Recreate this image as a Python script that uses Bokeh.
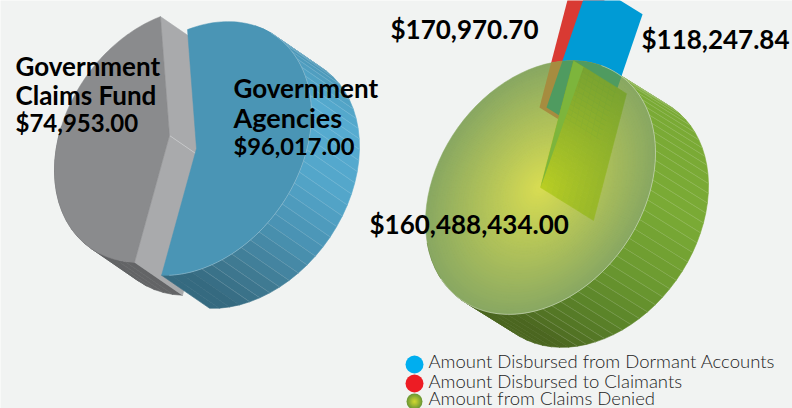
import math
import numpy as np
from bokeh.plotting import figure
from bokeh.models import Range1d
from bokeh.core.properties import value
from bokeh.embed import file_html
from bokeh.resources import INLINE

# ---- data ----
left_names = ["Government Claims Fund", "Government Agencies"]
left_values = [74953.00, 96017.00]
left_labels = [["Government", "Claims Fund", "$74,953.00"],
               ["Government", "Agencies", "$96,017.00"]]
right_names = ["Amount Disbursed from Dormant Accounts",
               "Amount Disbursed to Claimants",
               "Amount from Claims Denied"]
right_values = [118247.84, 170970.70, 160488434.00]
right_labels = ["$118,247.84", "$170,970.70", "$160,488,434.00"]

# ---- projection of the tilted pies (screen pixels, y down) ----
U = np.array([115.0, -34.8])
V = np.array([0.0, 122.0])
BG = "#f1f3f2"


def pt(center, deg, r=1.0):
    t = math.radians(deg)
    return np.array(center) + r * (U * math.cos(t) + V * math.sin(t))


def arc(center, a, b, r=1.0, n=120):
    return [pt(center, a + (b - a) * i / n, r) for i in range(n + 1)]


def hex2rgb(h):
    return np.array([int(h[i:i + 2], 16) for i in (1, 3, 5)], float)


def mix(a, b, t):
    c = hex2rgb(a) * (1 - t) + hex2rgb(b) * t
    return "#%02x%02x%02x" % tuple(int(round(v)) for v in c)


def shade(stops, deg):
    for (a, ca), (b, cb) in zip(stops, stops[1:]):
        if a <= deg <= b:
            return mix(ca, cb, (deg - a) / (b - a))
    return stops[0][1] if deg < stops[0][0] else stops[-1][1]


def clip_convex(poly, hull):
    # Sutherland-Hodgman; hull is ordered clockwise on screen (theta increasing)
    out = [np.array(q) for q in poly]
    for i in range(len(hull)):
        a, b = hull[i], hull[(i + 1) % len(hull)]
        inp, out = out, []
        side = lambda q: (b[0] - a[0]) * (q[1] - a[1]) - (b[1] - a[1]) * (q[0] - a[0])
        for j in range(len(inp)):
            s, e = inp[j], inp[(j + 1) % len(inp)]
            ss, se = side(s), side(e)
            if ss >= 0:
                out.append(s)
            if (ss >= 0) != (se >= 0):
                out.append(s + (e - s) * ss / (ss - se))
        if not out:
            return []
    return out


p = figure(width=792, height=408, x_range=Range1d(0, 792), y_range=Range1d(408, 0),
           toolbar_location=None, output_backend="svg", min_border=0)
p.axis.visible = False
p.grid.visible = False
p.outline_line_color = None
p.background_fill_color = BG
p.border_fill_color = BG


def poly(points, color, alpha=1.0, line=True):
    xs = [float(q[0]) for q in points]
    ys = [float(q[1]) for q in points]
    p.patch(xs, ys, fill_color=color, fill_alpha=alpha,
            line_color=color if line else None, line_alpha=alpha, line_width=0.5)


def side_wall(center, depth, a, b, stops, step=5.0, rule_until=95):
    n = int((b - a) / step)
    xs, ys, cols, lx, ly = [], [], [], [], []
    for i in range(n):
        t0, t1 = a + (b - a) * i / n, a + (b - a) * (i + 1) / n
        quad = [pt(center, t0), pt(center, t1), pt(center, t1) + depth, pt(center, t0) + depth]
        xs.append([float(q[0]) for q in quad])
        ys.append([float(q[1]) for q in quad])
        cols.append(shade(stops, (t0 + t1) / 2))
        if i and t0 < rule_until:
            lx.append([float(quad[0][0]), float(quad[3][0])])
            ly.append([float(quad[0][1]), float(quad[3][1])])
    p.patches(xs, ys, fill_color=cols, line_color=cols, line_width=0.6)
    p.multi_line(lx, ly, line_color="white", line_alpha=0.22, line_width=0.6)


def wedge(center, a, b, color):
    poly([np.array(center)] + arc(center, a, b), color)


# ---- left pie: slice sizes follow the values ----
L_GRAY = np.array([169.0, 135.0])
L_BLUE = np.array([196.0, 148.0])
L_DEPTH = np.array([48.0, 33.0])
split = -94.5
blue_span = 360.0 * left_values[1] / sum(left_values)
b_end = split + blue_span

# gray slice
side_wall(L_GRAY, L_DEPTH, b_end, 200, [(0, "#636466"), (200, "#636466")], rule_until=-999)
g_top, g_bot = pt(L_GRAY, split), pt(L_GRAY, b_end)
poly([L_GRAY, g_bot, g_bot + L_DEPTH, L_GRAY + L_DEPTH], "#a9aaac")
poly([g_top, L_GRAY, L_GRAY + L_DEPTH, g_top + L_DEPTH], "#a9aaac")
p.line([float(L_GRAY[0]), float(L_GRAY[0] + L_DEPTH[0])],
       [float(L_GRAY[1]), float(L_GRAY[1] + L_DEPTH[1])], line_color="white", line_alpha=0.6, line_width=0.5)
wedge(L_GRAY, b_end, split + 360, "#8a8b8d")

# blue slice
blue_stops = [(-90, "#4a8fae"), (-40, "#4c96b6"), (-5, "#56acd1"), (25, "#53a6ca"),
              (50, "#4a93b3"), (75, "#3f7a92"), (95, "#356a80"), (110, "#356a80")]
side_wall(L_BLUE, L_DEPTH, split + 35, b_end, blue_stops, rule_until=92)
wedge(L_BLUE, split, b_end, "#4a95b5")
a_edge = arc(L_BLUE, split + 45, b_end - 4)
p.line([float(q[0]) for q in a_edge], [float(q[1]) for q in a_edge],
       line_color="white", line_alpha=0.45, line_width=0.6)

# ---- right pie ----
R_C = np.array([540.0, 187.0])
R_D = np.array([53.0, 33.0])
green_stops = [(-70, "#8da95f"), (-40, "#7aaa35"), (20, "#7aaa35"), (50, "#6c9a30"),
               (75, "#5a8229"), (105, "#4b6620"), (200, "#4b6620")]
side_wall(R_C, R_D, -64, 170, green_stops, step=4.5, rule_until=102)

# exploded thin slices: (apex, angle of their outer edge)
red_apex = np.array([539.0, 107.0])
blue_apex = np.array([546.0, 107.0])
red_out = red_apex + (pt(R_C, -73.3) - R_C)
blue_out = blue_apex + (pt(R_C, -68.0) - R_C)
red_wall = [red_apex, red_apex + R_D, red_out + R_D, red_out]
blue_wall = [blue_apex, blue_apex + R_D, blue_out + R_D, blue_out]
poly(red_wall, "#d93a33", line=False)
poly(blue_wall, "#009bd5", line=False)

# face: radial gradient as concentric ellipses
rings = 46
for i in range(rings):
    r = 1.0 - i / rings
    poly(arc(R_C, 0, 360, r=r, n=90), mix("#d9dd52", "#89a862", r))

hull = arc(R_C, 0, 360, n=90)[:-1]
poly(clip_convex(red_wall, hull), "#a68c3f", line=False)
poly(clip_convex(blue_wall, hull), "#4f9b60", line=False)

# green slice cut wall, seen through the face (tone follows distance from centre)
a0 = R_C
a1 = pt(R_C, -73.3)
nt, nd = 26, 10
for i in range(nt):
    for j in range(nd):
        t0, t1 = i / nt, (i + 1) / nt
        d0, d1 = j / nd, (j + 1) / nd
        q0, q1 = a0 + (a1 - a0) * t0, a0 + (a1 - a0) * t1
        mid = (q0 + q1) / 2 + R_D * (d0 + d1) / 2 - R_C
        dist = min(1.0, float(np.hypot(mid[0], mid[1])) / 125.0)
        poly([q0 + R_D * d0, q1 + R_D * d0, q1 + R_D * d1, q0 + R_D * d1],
             mix("#bcd022", "#7aa330", dist ** 0.8))
poly([a0, a1, a1 + R_D * 0.19], "#7db53c", line=False)
e_arc = arc(R_C, -58, 150)
p.line([float(q[0]) for q in e_arc], [float(q[1]) for q in e_arc],
       line_color="white", line_alpha=0.55, line_width=0.7)

# ---- texts ----
BOLD = dict(text_font=value("Lato"), text_font_style="bold", text_color="#000000",
            text_baseline="alphabetic")


def label(x, y, s, size="26px"):
    p.text([x], [y], text=[s], text_font_size=size, **BOLD)


label(15, 65, left_labels[0][0])
label(15, 94, left_labels[0][1])
label(15, 122, left_labels[0][2], "24px")
label(233, 87, left_labels[1][0])
label(233, 117, left_labels[1][1], "27px")
label(233, 145, left_labels[1][2], "23.7px")
label(641, 38, right_labels[0])
label(390, 28, right_labels[1])
label(369, 223, right_labels[2])

# ---- legend ----
lg_y = [364, 383, 401]
lg_col = ["#00aeef", "#ed1c24"]
p.scatter([414, 414], lg_y[:2], size=18, fill_color=lg_col, line_color=None)
for i in range(9):
    r = 1 - i / 9
    p.scatter([414], [lg_y[2]], size=16 * r, fill_color=mix("#d9dd30", "#6f9a35", r), line_color=None)
for s, y in zip(right_names, [360, 380, 397]):
    p.text([428], [y], text=[s], text_font=value("Lato Light"), text_font_size="18.5px",
           text_color="#222222", text_baseline="alphabetic")

open("out.html", "w").write(file_html(p, INLINE))
